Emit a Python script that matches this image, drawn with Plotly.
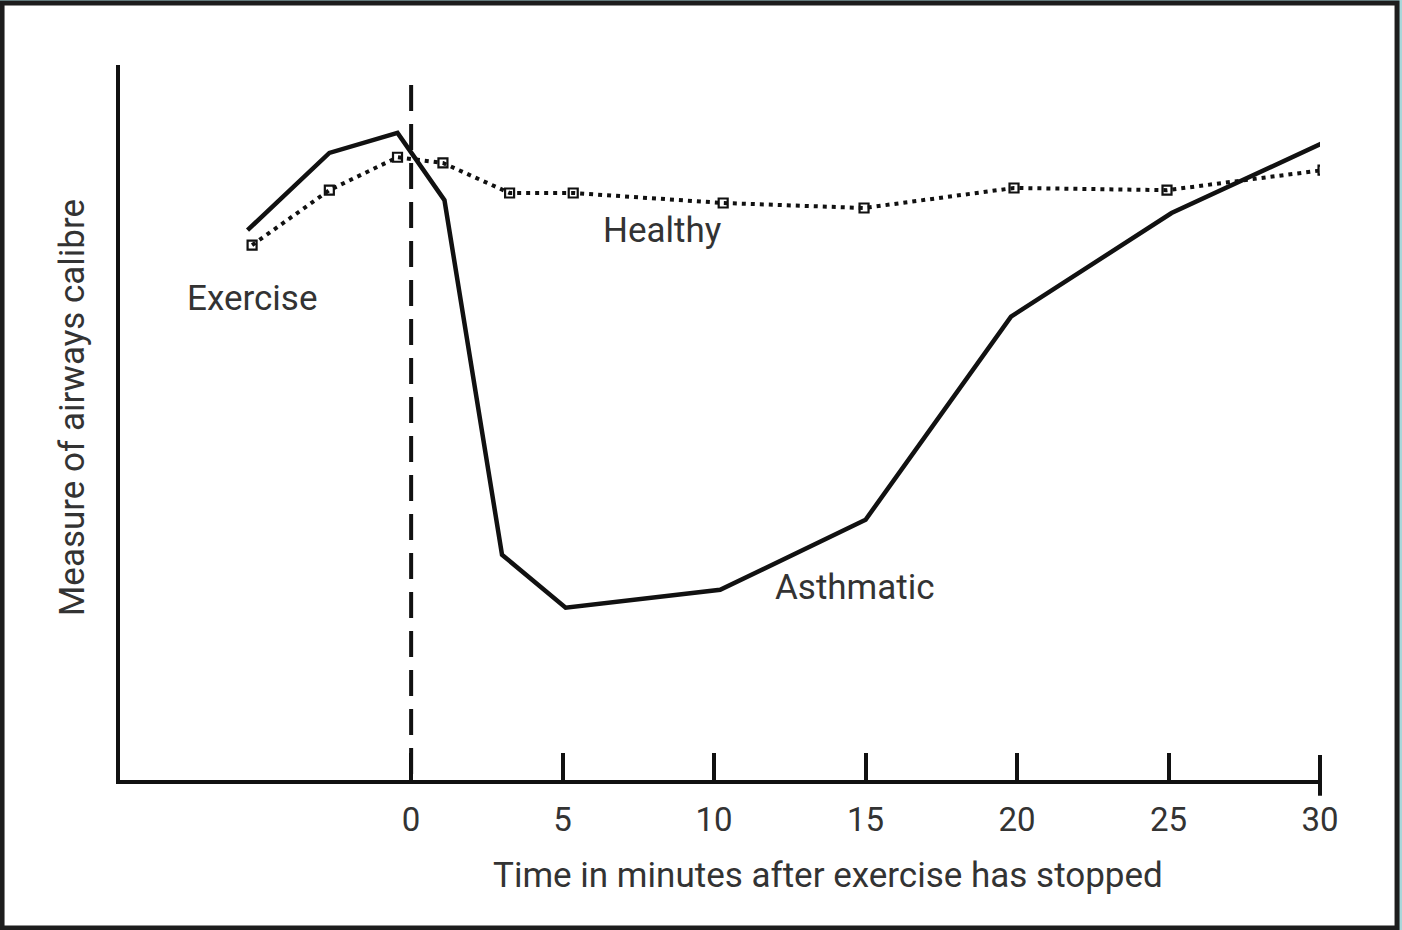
import plotly.graph_objects as go

# Data (arbitrary airway-calibre units, 0-100)
asthmatic_t = [-5.4, -2.7, -0.45, 1.1, 3.0, 5.1, 10.2, 15.0, 19.8, 25.1, 30.1]
asthmatic_v = [76.9, 87.7, 90.5, 81.1, 31.5, 24.1, 26.6, 36.4, 64.8, 79.3, 89.1]

healthy_t = [-5.25, -2.7, -0.45, 1.05, 3.25, 5.35, 10.3, 14.95, 19.9, 24.95, 30.1]
healthy_v = [74.8, 82.5, 87.1, 86.3, 82.1, 82.1, 80.7, 80.0, 82.8, 82.5, 85.3]

tick_vals = [0, 5, 10, 15, 20, 25, 30]
tick_text = ["0", "5", "10", "15", "20", "25", "30"]

x_title = "Time in minutes after exercise has stopped"
y_title = "Measure of airways calibre"

labels = [
    ("Exercise", -5.25, 67.4),
    ("Healthy", 8.3, 76.9),
    ("Asthmatic", 14.65, 26.9),
]

FONT = "Roboto, 'Open Sans', sans-serif"
TXT = "#333333"

fig = go.Figure()

# exercise stop line (dashed vertical at t = 0), drawn from the top down
fig.add_trace(go.Scatter(
    x=[0, 0], y=[97.2, 0], mode="lines",
    line=dict(color="#111111", width=4, dash="26px,13px"),
    hoverinfo="skip", showlegend=False,
))

fig.add_trace(go.Scatter(
    x=healthy_t, y=healthy_v, mode="lines+markers", name="Healthy",
    line=dict(color="#111111", width=4, dash="4px,5px"),
    marker=dict(symbol="square-open", size=9, color="#111111",
                line=dict(width=2.2, color="#111111")),
    showlegend=False,
))

fig.add_trace(go.Scatter(
    x=asthmatic_t, y=asthmatic_v, mode="lines", name="Asthmatic",
    line=dict(color="#111111", width=4.5),
    showlegend=False,
))

for text, x, y in labels:
    fig.add_annotation(x=x, y=y, text=text, showarrow=False,
                       font=dict(family=FONT, size=35, color=TXT))

# axis titles (off-centre in the reference, so placed as annotations)
fig.add_annotation(xref="paper", yref="paper", x=0.59, y=-0.133,
                   text=x_title, showarrow=False, xanchor="center",
                   yanchor="middle",
                   font=dict(family=FONT, size=35, color=TXT))
fig.add_annotation(xref="paper", yref="paper", x=-0.04, y=0.52,
                   text=y_title, showarrow=False, textangle=-90,
                   xanchor="center", yanchor="middle",
                   font=dict(family=FONT, size=35, color=TXT))

# frame of the picture
fig.add_shape(type="rect", xref="paper", yref="paper",
              x0=-0.0983, x1=1.0642, y0=-0.207, y1=1.0867,
              line=dict(color="#1d1d1d", width=5), fillcolor="white",
              layer="below")

# end cap tick at 30 that crosses the axis
fig.add_shape(type="line", xref="x domain", yref="paper",
              x0=1, x1=1, y0=-0.022, y1=0.035,
              line=dict(color="#111111", width=4))

fig.update_layout(
    width=1402, height=930,
    margin=dict(l=120, r=82, t=65, b=150),
    paper_bgcolor="#a9d7da",
    plot_bgcolor="rgba(0,0,0,0)",
    font=dict(family=FONT, color=TXT),
    xaxis=dict(
        range=[-9.61, 30], showgrid=False, zeroline=False,
        showline=True, linecolor="#111111", linewidth=4,
        ticks="inside", ticklen=27, tickwidth=4, tickcolor="#111111",
        tickvals=tick_vals, ticktext=tick_text,
        tickfont=dict(family=FONT, size=33, color=TXT),
        ticklabelstandoff=7,
    ),
    yaxis=dict(
        range=[0, 100], showgrid=False, zeroline=False,
        showline=True, linecolor="#111111", linewidth=4,
        ticks="", showticklabels=False,
    ),
)

fig.write_html(
    "out.html",
    config={"displayModeBar": False},
    post_script="document.body.style.margin='0';document.body.style.background='#a9d7da';",
)
